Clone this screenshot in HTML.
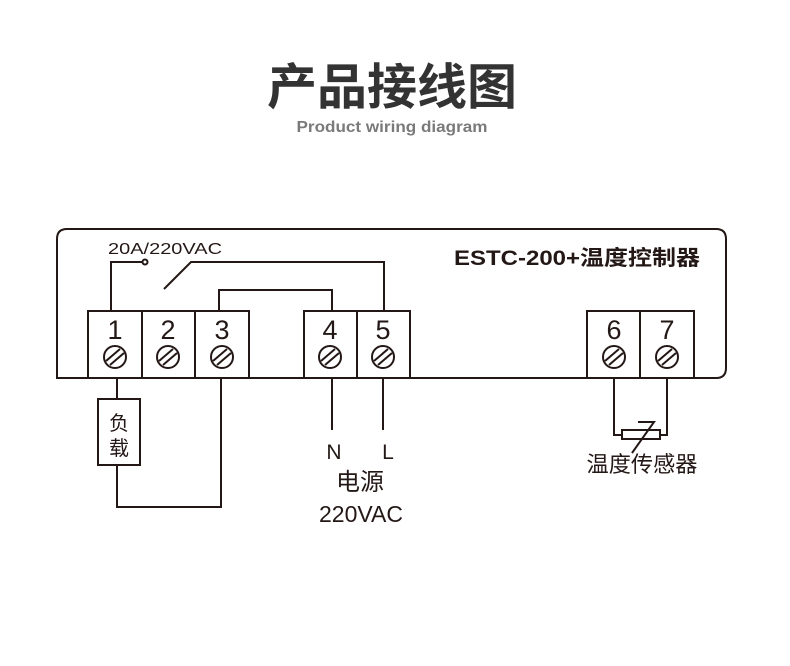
<!DOCTYPE html>
<html><head><meta charset="utf-8"><style>
html,body{margin:0;padding:0;background:#fff;}
svg{display:block;}
.t{font-family:"Liberation Sans","Noto Sans CJK SC",sans-serif;}
</style></head><body>
<svg width="790" height="666" viewBox="0 0 790 666" xmlns="http://www.w3.org/2000/svg">
<rect width="790" height="666" fill="#fff"/>
<text class="t" x="392" y="104" text-anchor="middle" font-size="49" font-weight="bold" fill="#333" textLength="250" lengthAdjust="spacingAndGlyphs">产品接线图</text>
<text class="t" x="392" y="132" text-anchor="middle" font-size="16" font-weight="bold" fill="#7a7a7a" textLength="191" lengthAdjust="spacingAndGlyphs">Product wiring diagram</text>

<g fill="none" stroke="#231815" stroke-width="2">
<path d="M57 378 L57 239 Q57 229 67 229 L716 229 Q726 229 726 239 L726 368 Q726 378 716 378 Z" fill="#fff"/>
<rect x="88" y="311" width="54" height="67" fill="#fff"/>
<rect x="142" y="311" width="53" height="67" fill="#fff"/>
<rect x="195" y="311" width="54" height="67" fill="#fff"/>
<rect x="304" y="311" width="53" height="67" fill="#fff"/>
<rect x="357" y="311" width="53" height="67" fill="#fff"/>
<rect x="587" y="311" width="53" height="67" fill="#fff"/>
<rect x="640" y="311" width="54" height="67" fill="#fff"/>
<path d="M111 311 L111 262 L142 262"/>
<circle cx="145" cy="262" r="2.5" fill="#fff"/>
<path d="M164 289 L191 262 L384 262 L384 311"/>
<path d="M219 311 L219 290 L332 290 L332 311"/>
<path d="M117 378 L117 399"/>
<rect x="98" y="399" width="42" height="66" fill="#fff"/>
<path d="M117 465 L117 507 L221 507 L221 378"/>
<path d="M332 378 L332 430"/>
<path d="M383 378 L383 430"/>
<path d="M614 378 L614 435 L622 435"/>
<path d="M667 378 L667 435 L660 435"/>
<rect x="622" y="430" width="38" height="9" fill="#fff"/>
<path d="M638 422 L654 422 L632 453"/>
</g>
<g stroke="#231815" stroke-width="2" fill="#fff">
<g transform="translate(115,357)"><circle r="11"/><path d="M-9 4 L5 -8 M-5 8 L9 -4"/></g>
<g transform="translate(168,357)"><circle r="11"/><path d="M-9 4 L5 -8 M-5 8 L9 -4"/></g>
<g transform="translate(222,357)"><circle r="11"/><path d="M-9 4 L5 -8 M-5 8 L9 -4"/></g>
<g transform="translate(330,357)"><circle r="11"/><path d="M-9 4 L5 -8 M-5 8 L9 -4"/></g>
<g transform="translate(383,357)"><circle r="11"/><path d="M-9 4 L5 -8 M-5 8 L9 -4"/></g>
<g transform="translate(614,357)"><circle r="11"/><path d="M-9 4 L5 -8 M-5 8 L9 -4"/></g>
<g transform="translate(667,357)"><circle r="11"/><path d="M-9 4 L5 -8 M-5 8 L9 -4"/></g>
</g>
<g class="t" fill="#231815" font-size="27" text-anchor="middle">
<text x="115" y="339">1</text><text x="168" y="339">2</text><text x="222" y="339">3</text>
<text x="330" y="339">4</text><text x="383" y="339">5</text>
<text x="614" y="339">6</text><text x="667" y="339">7</text>
</g>
<text class="t" x="108" y="254" font-size="16" fill="#231815" textLength="114" lengthAdjust="spacingAndGlyphs">20A/220VAC</text>
<text class="t" x="454" y="265" font-size="21" font-weight="bold" fill="#231815" textLength="246" lengthAdjust="spacingAndGlyphs">ESTC-200+温度控制器</text>
<text class="t" x="119" y="430" font-size="20" fill="#231815" text-anchor="middle">负</text>
<text class="t" x="119" y="455" font-size="20" fill="#231815" text-anchor="middle">载</text>
<text class="t" x="334" y="459" font-size="21" fill="#231815" text-anchor="middle">N</text>
<text class="t" x="388" y="459" font-size="21" fill="#231815" text-anchor="middle">L</text>
<text class="t" x="360" y="490" font-size="24" fill="#231815" text-anchor="middle">电源</text>
<text class="t" x="361" y="522" font-size="23" fill="#231815" text-anchor="middle">220VAC</text>
<text class="t" x="642" y="472" font-size="22" fill="#231815" text-anchor="middle" textLength="111" lengthAdjust="spacingAndGlyphs">温度传感器</text>
</svg>
</body></html>
